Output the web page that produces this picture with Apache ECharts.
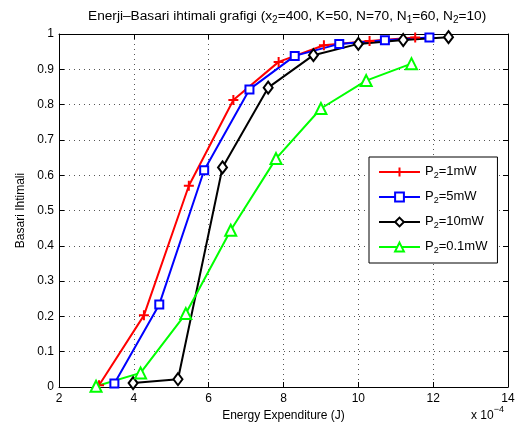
<!DOCTYPE html>
<html>
<head>
<meta charset="utf-8">
<script src="https://cdn.jsdelivr.net/npm/echarts@6/dist/echarts.min.js"></script>
<style>html,body{margin:0;padding:0;background:#fff}#c{width:518px;height:432px}</style>
</head>
<body>
<div id="c"></div>
<script>
var FONT = "'Liberation Sans', Arial, Helvetica, sans-serif";
var xTicks = [2, 4, 6, 8, 10, 12, 14];
var yTicks = [0, 0.1, 0.2, 0.3, 0.4, 0.5, 0.6, 0.7, 0.8, 0.9, 1];

var seriesNames = ['P{s|2}=1mW', 'P{s|2}=5mW', 'P{s|2}=10mW', 'P{s|2}=0.1mW'];

var x1mW = [3.07, 4.27, 5.47, 6.66, 7.87, 9.08, 10.3, 11.52];
var y1mW = [0.005, 0.203, 0.57, 0.813, 0.921, 0.968, 0.98, 0.99];

var x5mW = [3.48, 4.68, 5.88, 7.09, 8.3, 9.49, 10.71, 11.9];
var y5mW = [0.01, 0.234, 0.614, 0.843, 0.938, 0.972, 0.982, 0.99];

var x10mW = [3.98, 5.18, 6.37, 7.59, 8.8, 10.0, 11.2, 12.41];
var y10mW = [0.011, 0.022, 0.622, 0.848, 0.94, 0.972, 0.983, 0.991];

var x01mW = [2.99, 4.18, 5.39, 6.59, 7.8, 9.0, 10.21, 11.42];
var y01mW = [0.002, 0.04, 0.208, 0.444, 0.647, 0.789, 0.868, 0.916];

function pairs(xs, ys) { return xs.map(function (x, i) { return [x, ys[i]]; }); }

var subRich = {
  s: { fontSize: 9, lineHeight: 9, padding: [6, 0, 0, 0], verticalAlign: 'top', fontFamily: FONT, color: '#000' },
  m: { fontSize: 13, lineHeight: 14, verticalAlign: 'top', fontFamily: FONT, color: '#000' }
};

var chart = echarts.init(document.getElementById('c'), null, { renderer: 'canvas' });

function mkSeries(name, data, color, symbol, size) {
  return {
    name: name, type: 'line', data: data,
    xAxisIndex: 0, yAxisIndex: 0,
    symbol: symbol, symbolSize: size,
    showAllSymbol: true,
    lineStyle: { color: color, width: 2 },
    itemStyle: { color: color, borderColor: color, borderWidth: 2 },
    emphasis: { disabled: true },
    animation: false,
    z: 3
  };
}

var option = {
  animation: false,
  backgroundColor: '#fff',
  textStyle: { fontFamily: FONT },
  title: {
    text: '{m|Enerji\u2013Basari ihtimali grafigi (x}{s|2}{m|=400, K=50, N=70, N}{s|1}{m|=60, N}{s|2}{m|=10)}',
    left: 83, top: 4,
    textStyle: {
      fontSize: 13.7, fontWeight: 'normal', color: '#000', fontFamily: FONT,
      rich: {
        m: { fontSize: 13.7, lineHeight: 14, verticalAlign: 'top', fontFamily: FONT, color: '#000' },
        s: { fontSize: 10, lineHeight: 10, padding: [6, 0, 0, 0], verticalAlign: 'top', fontFamily: FONT, color: '#000' }
      }
    }
  },
  grid: { left: 59, right: 10, top: 34, bottom: 45, containLabel: false },
  legend: {
    orient: 'vertical', left: 369, top: 157,
    padding: [8, 10, 8, 9],
    itemGap: 10, itemWidth: 41, itemHeight: 11,
    backgroundColor: '#fff', borderColor: '#000', borderWidth: 1,
    data: seriesNames,
    formatter: function (n) { return '{m|' + n.replace('{s|2}', '}{s|2}{m|') + '}'; },
    textStyle: { fontSize: 13, color: '#000', fontFamily: FONT, rich: subRich },
    selectedMode: false
  },
  xAxis: [{
    type: 'value', min: 2, max: 14, interval: 2,
    name: 'Energy Expenditure (J)', nameLocation: 'middle', nameGap: 20,
    nameTextStyle: { fontSize: 12, color: '#000', fontFamily: FONT },
    axisLine: { show: true, onZero: false, lineStyle: { color: '#000', width: 1 } },
    axisTick: { show: true, inside: true, length: 5, lineStyle: { color: '#000' } },
    axisLabel: { fontSize: 12, color: '#000', margin: 6, fontFamily: FONT },
    splitLine: { show: true, lineStyle: { color: '#555', type: [1, 4], width: 1 } }
  }, {
    type: 'value', min: 2, max: 14, interval: 2, position: 'top',
    axisLine: { show: true, onZero: false, lineStyle: { color: '#000', width: 1 } },
    axisTick: { show: true, inside: true, length: 5, lineStyle: { color: '#000' } },
    axisLabel: { show: false }, splitLine: { show: false }
  }],
  yAxis: [{
    type: 'value', min: 0, max: 1, interval: 0.1,
    name: 'Basari Ihtimali', nameLocation: 'middle', nameGap: 27,
    nameTextStyle: { fontSize: 12, color: '#000', fontFamily: FONT },
    axisLine: { show: true, onZero: false, lineStyle: { color: '#000', width: 1 } },
    axisTick: { show: true, inside: true, length: 5, lineStyle: { color: '#000' } },
    axisLabel: { fontSize: 12, color: '#000', margin: 5, fontFamily: FONT },
    splitLine: { show: true, lineStyle: { color: '#555', type: [1, 4], width: 1 } }
  }, {
    type: 'value', min: 0, max: 1, interval: 0.1, position: 'right',
    axisLine: { show: true, onZero: false, lineStyle: { color: '#000', width: 1 } },
    axisTick: { show: true, inside: true, length: 5, lineStyle: { color: '#000' } },
    axisLabel: { show: false }, splitLine: { show: false }
  }],
  graphic: [{
    type: 'text', left: 471, top: 405,
    style: {
      text: '{a|x 10}{b|\u22124}',
      rich: {
        a: { fontSize: 12, lineHeight: 14, padding: [5, 0, 0, 0], verticalAlign: 'top', fontFamily: FONT, fill: '#000', color: '#000' },
        b: { fontSize: 9, lineHeight: 9, verticalAlign: 'top', fontFamily: FONT, fill: '#000', color: '#000' }
      }
    }
  }],
  series: [
    mkSeries(seriesNames[0], pairs(x1mW, y1mW), '#ff0000', 'path://M0,5L10,5M5,0L5,10', 10),
    mkSeries(seriesNames[1], pairs(x5mW, y5mW), '#0000ff', 'emptyRect', 8),
    mkSeries(seriesNames[2], pairs(x10mW, y10mW), '#000000', 'emptyDiamond', [9, 12]),
    mkSeries(seriesNames[3], pairs(x01mW, y01mW), '#00ff00', 'emptyTriangle', 11)
  ]
};
chart.setOption(option);
</script>
</body>
</html>
